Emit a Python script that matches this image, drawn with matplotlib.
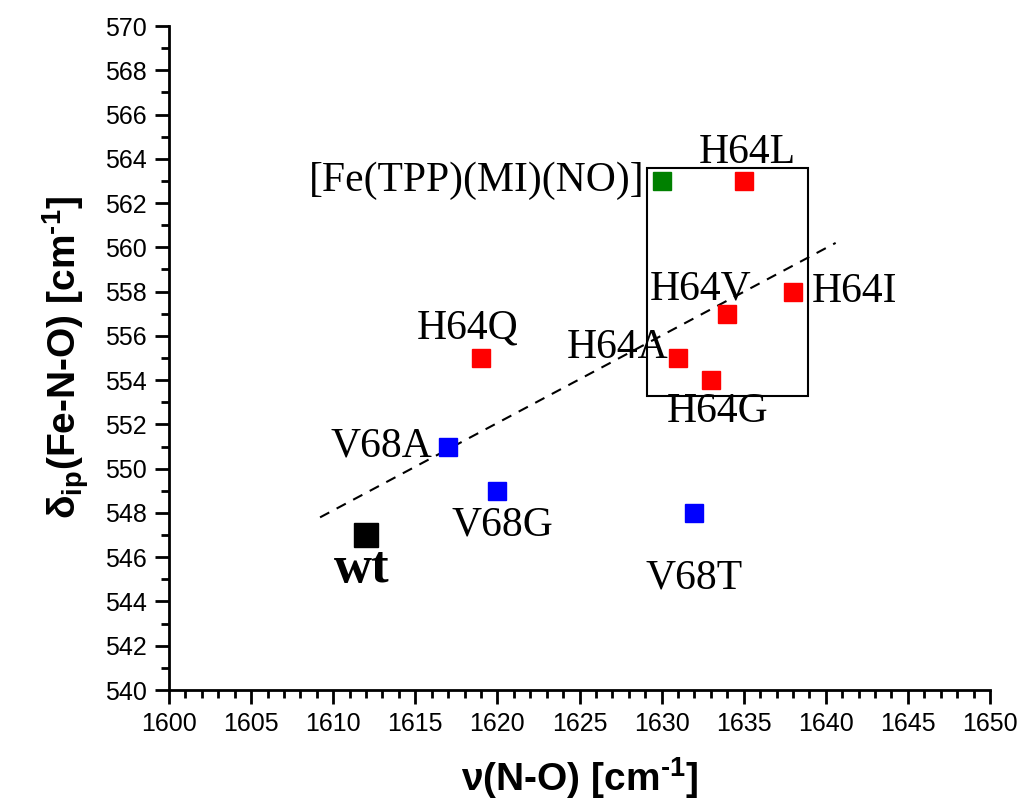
import matplotlib
matplotlib.use("Agg")
import matplotlib.pyplot as plt
from matplotlib.patches import Rectangle

plt.rcParams['font.family'] = ['Liberation Sans', 'DejaVu Sans']
plt.rcParams['mathtext.fontset'] = 'custom'
plt.rcParams['mathtext.bf'] = 'Liberation Sans:bold'
plt.rcParams['mathtext.rm'] = 'Liberation Sans:bold'
plt.rcParams['mathtext.default'] = 'bf'

# data
labels = ['wt', 'V68A', 'V68G', 'V68T', 'H64Q', 'H64A', 'H64G', 'H64V', 'H64I', 'H64L',
          '[Fe(TPP)(MI)(NO)]']
nu_no = [1612, 1617, 1620, 1632, 1619, 1631, 1633, 1634, 1638, 1635, 1630]
delta_fno = [547, 551, 549, 548, 555, 555, 554, 557, 558, 563, 563]
colors = ['black', 'blue', 'blue', 'blue', 'red', 'red', 'red', 'red', 'red', 'red', 'green']

fit_x = [1609.2, 1640.6]
fit_y = [547.8, 560.2]

box_x = [1629.1, 1638.9]
box_y = [553.3, 563.6]

# label placement (offset pixels, ha)
lab_pos = {
    'wt': (-4, -34, 'center'),
    'V68A': (-16, 0, 'right'),
    'V68G': (5, -34, 'center'),
    'V68T': (0, -65, 'center'),
    'H64Q': (-13, 30, 'center'),
    'H64A': (-10, 10, 'right'),
    'H64G': (7, -32, 'center'),
    'H64V': (-27, 24, 'center'),
    'H64I': (19, 0, 'left'),
    'H64L': (4, 28, 'center'),
    '[Fe(TPP)(MI)(NO)]': (-17, 0, 'right'),
}

fig = plt.figure(figsize=(10.21, 8.1), dpi=100)
ax = fig.add_axes([169 / 1021, 120 / 810, 821 / 1021, 664 / 810])

ax.plot(fit_x, fit_y, linestyle=(0, (5, 4)), color='black', lw=1.5, zorder=2)
ax.add_patch(Rectangle((box_x[0], box_y[0]), box_x[1] - box_x[0], box_y[1] - box_y[0],
                       fill=False, edgecolor='black', lw=1.5, zorder=1))

for lab, x, y, c in zip(labels, nu_no, delta_fno, colors):
    is_wt = lab == 'wt'
    ms = 17 if is_wt else 13.5
    ax.plot(x, y, marker='s', ms=ms, color=c, mec=c, linestyle='none', zorder=3)
    dx, dy, ha = lab_pos[lab]
    ax.annotate(lab, (x, y), xytext=(dx, dy), textcoords='offset pixels',
                ha=ha, va='center', family=['Liberation Serif'],
                fontsize=38 if is_wt else 30, fontweight='bold' if is_wt else 'normal')

ax.set_xlim(1600, 1650)
ax.set_ylim(540, 570)
ax.set_xticks(range(1600, 1651, 5))
ax.set_xticks(range(1600, 1651, 1), minor=True)
ax.set_yticks(range(540, 571, 2))
ax.set_yticks(range(540, 571, 1), minor=True)
ax.spines['top'].set_visible(False)
ax.spines['right'].set_visible(False)
for s in ['left', 'bottom']:
    ax.spines[s].set_linewidth(2)
ax.tick_params(which='major', direction='out', length=10, width=2, labelsize=18, pad=6)
ax.tick_params(which='minor', direction='out', length=6, width=2)

ax.set_xlabel(r'$\nu$(N-O) [cm$^{\text{-1}}$]', fontsize=28, fontweight='bold', labelpad=14)
ax.set_ylabel(r'$\delta_{ip}$(Fe-N-O) [cm$^{\text{-1}}$]', fontsize=28, fontweight='bold', labelpad=10)

fig.savefig('out.png', dpi=100)
